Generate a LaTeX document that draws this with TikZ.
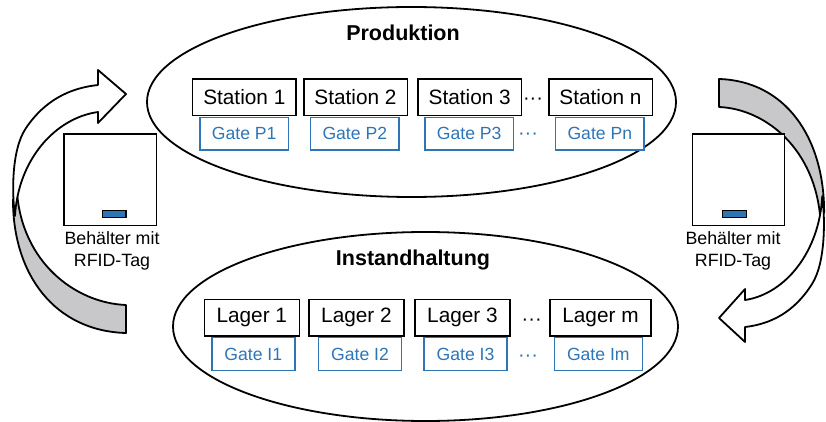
\documentclass[tikz,border=0pt]{standalone}
\usepackage{fontspec}
\setmainfont{Liberation Sans}
\usetikzlibrary{shapes.geometric}
\definecolor{gateblue}{RGB}{46,117,182}
\definecolor{bandgray}{RGB}{200,200,202}
\tikzset{
  bigbox/.style={draw=black, line width=1.5pt, fill=white, inner sep=0pt, minimum width=103.5pt, minimum height=36.5pt, font=\fontsize{20.8}{24}\selectfont},
  lagerbox/.style={bigbox, minimum width=95pt},
  gatebox/.style={draw=gateblue, line width=1.4pt, fill=white, inner sep=0pt, text=gateblue, minimum width=88.3pt, minimum height=32.7pt, font=\fontsize{17.6}{20}\selectfont},
  gateibox/.style={gatebox, minimum width=83pt, minimum height=33.4pt},
  areaell/.style={draw=black, line width=1.8pt, ellipse, inner sep=0pt},
  titletext/.style={font=\bfseries\fontsize{21.5}{24}\selectfont, inner sep=0pt},
  dotsb/.style={font=\fontsize{20}{20}\selectfont, inner sep=0pt, anchor=base},
  container/.style={draw=black, line width=1.1pt, fill=white},
  rfidtag/.style={draw=black, line width=1.1pt, fill=gateblue},
  captext/.style={align=center, inner sep=0pt, font=\fontsize{17.8}{22}\selectfont},
  band/.style={draw=black, line width=1.8pt, line join=round},
}
\begin{document}
\begin{tikzpicture}[x=1pt,y=-1pt]
\useasboundingbox (0,0) rectangle (826,422);

% ---- curved arrows (left: up to Produktion; right: down to Instandhaltung)
\newcommand{\curvedarrowshape}{%
  \path[band, fill=bandgray] (17,192) .. controls (22,262) and (75,303) .. (126,305)
     -- (126,333) .. controls (55,331) and (13,275) .. (13,200) -- cycle;
  \path[band, fill=white] (98,85) -- (98,70) -- (126,94) -- (98,123) -- (98,112)
     .. controls (55,118) and (18,160) .. (15,216)
     .. controls (12,195) and (11,150) .. (26,128)
     .. controls (45,100) and (70,88) .. (98,85) -- cycle;
}
\begin{scope}
  \curvedarrowshape
\end{scope}
\begin{scope}[shift={(836.2,412)}, xscale=-0.93, yscale=-1]
  \curvedarrowshape
\end{scope}

% ---- areas
\node[areaell, minimum width=529pt, minimum height=190pt] (prod) at (411.5,102) {};
\node[areaell, minimum width=505pt, minimum height=189pt] (inst) at (425.5,326.5) {};
\node[titletext] (prodt) at (403,33) {Produktion};
\node[titletext] (instt) at (413,260) {Instandhaltung};

% ---- stations
\node[bigbox] (s1) at (244.3,97.5) {Station 1};
\node[bigbox] (s2) at (355.5,97.5) {Station 2};
\node[bigbox] (s3) at (469.7,97.5) {Station 3};
\node[bigbox] (sn) at (600.5,97.5) {Station n};
\node[dotsb] (sd) at (533,105) {···};
\node[gatebox] (p1) at (244.2,133.7) {Gate P1};
\node[gatebox] (p2) at (354.8,133.7) {Gate P2};
\node[gatebox] (p3) at (469.2,133.7) {Gate P3};
\node[gatebox] (pn) at (599.8,133.7) {Gate Pn};
\node[dotsb, text=gateblue] (pd) at (528,140) {···};

% ---- storage
\node[lagerbox] (l1) at (251.8,317.5) {Lager 1};
\node[lagerbox] (l2) at (356.5,317.5) {Lager 2};
\node[lagerbox] (l3) at (462.5,317.5) {Lager 3};
\node[lagerbox, minimum width=101pt] (lm) at (600.5,317.5) {Lager m};
\node[dotsb] (ld) at (531.7,325) {···};
\node[gateibox] (i1) at (253.3,354) {Gate I1};
\node[gateibox] (i2) at (360,354) {Gate I2};
\node[gateibox] (i3) at (465.5,354) {Gate I3};
\node[gateibox, minimum width=88pt] (im) at (598.3,354) {Gate Im};
\node[dotsb, text=gateblue] (id) at (528,361) {···};

% ---- containers
\draw[container] (64,134) rectangle (156.7,225.7);
\draw[rfidtag] (102.3,210.7) rectangle (126,217.3);
\node[captext] (cl) at (112,251) {Behälter mit\\RFID-Tag};
\draw[container] (692.7,134) rectangle (784.3,225.3);
\draw[rfidtag] (722.7,210.7) rectangle (746.7,217.3);
\node[captext] (cr) at (733,251) {Behälter mit\\RFID-Tag};
\end{tikzpicture}
\end{document}
